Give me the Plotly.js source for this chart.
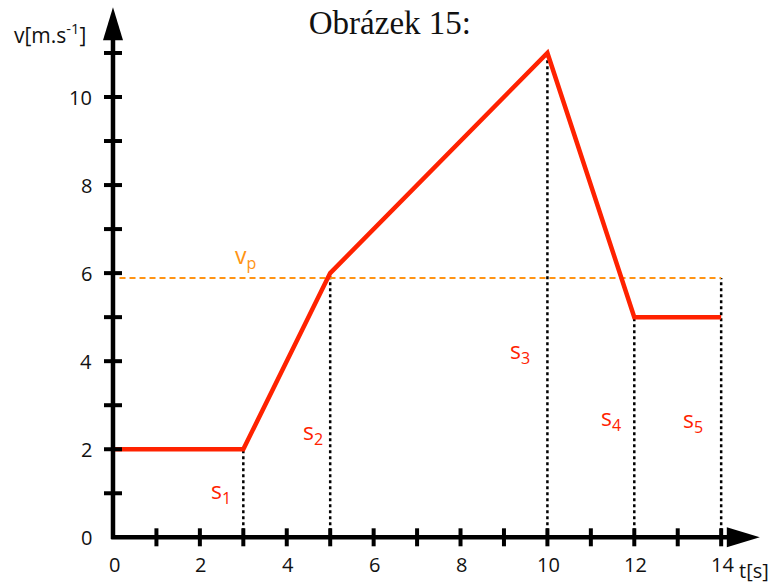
<!DOCTYPE html>
<html>
<head>
<meta charset="utf-8">
<script src="https://cdn.plot.ly/plotly-3.0.1.min.js"></script>
<style>html,body{margin:0;padding:0;background:#fff;}#chart{width:769px;height:583px;}</style>
</head>
<body>
<div id="chart"></div>
<script>
// ---- data ----
const tValues = [0, 3, 5, 10, 12, 14];
const vValues = [2, 2, 6, 11, 5, 5];
const vp = 5.89;
const dropT = [3, 5, 10, 12, 14];
const dropTop = [2, 6, 11, 5, 5.89];
const xTickVals = [1, 2, 3, 4, 5, 6, 7, 8, 9, 10, 11, 12, 13, 14];
const xLabelVals = [0, 2, 4, 6, 8, 10, 12, 14];
const xLabelText = ['0', '2', '4', '6', '8', '10', '12', '14'];
const yTickVals = [1, 2, 3, 4, 5, 6, 7, 8, 9, 10, 11];
const yLabelVals = [0, 2, 4, 6, 8, 10];
const yLabelText = ['0', '2', '4', '6', '8', '10'];
const segLabels = ['s<sub>1</sub>', 's<sub>2</sub>', 's<sub>3</sub>', 's<sub>4</sub>', 's<sub>5</sub>'];
const segLabelT = [2.49, 4.6, 9.37, 11.47, 13.35];
const segLabelV = [1.03, 2.39, 4.23, 2.69, 2.66];

const RED = '#ff2200';
const ORANGE = '#ff9414';
const TICKFONT = {family: 'Open Sans, sans-serif', size: 20, color: '#111'};

const traces = [];
// vertical dotted drop lines
dropT.forEach((t, i) => {
  traces.push({x: [t, t], y: [0, dropTop[i]], mode: 'lines', hoverinfo: 'skip',
    line: {color: '#000', width: 2.5, dash: '3px,3px'}, showlegend: false});
});
// average speed
traces.push({x: [0.15, 14], y: [vp, vp], mode: 'lines', hoverinfo: 'skip',
  line: {color: ORANGE, width: 2, dash: '6px,4px'}, showlegend: false});
// speed profile
traces.push({x: tValues, y: vValues, mode: 'lines', line: {color: RED, width: 4.5}, showlegend: false});

const shapes = [];
// axes lines
shapes.push({type: 'line', xref: 'x', yref: 'y', x0: -0.04, x1: 14.2, y0: 0, y1: 0, line: {color: '#000', width: 4.5}});
shapes.push({type: 'line', xref: 'x', yref: 'y', x0: 0, x1: 0, y0: -0.04, y1: 11.4, line: {color: '#000', width: 4.5}});
// arrowheads
shapes.push({type: 'path', xref: 'x', yref: 'y', xsizemode: 'pixel', ysizemode: 'pixel',
  xanchor: 14.13, yanchor: 0, path: 'M0,-10 L33,0 L0,10 Z', fillcolor: '#000', line: {width: 0}});
shapes.push({type: 'path', xref: 'x', yref: 'y', xsizemode: 'pixel', ysizemode: 'pixel',
  xanchor: 0, yanchor: 11.29, path: 'M-10,0 L0,33 L10,0 Z', fillcolor: '#000', line: {width: 0}});
// ticks
xTickVals.forEach(t => shapes.push({type: 'line', xref: 'x', yref: 'y', ysizemode: 'pixel', yanchor: 0,
  x0: t, x1: t, y0: -9, y1: 9, line: {color: '#000', width: 4}}));
yTickVals.forEach(v => shapes.push({type: 'line', xref: 'x', yref: 'y', xsizemode: 'pixel', xanchor: 0,
  x0: -9, x1: 9, y0: v, y1: v, line: {color: '#000', width: 4}}));

const annotations = [];
xLabelVals.forEach((t, i) => annotations.push({x: t, y: 0, xref: 'x', yref: 'y', text: xLabelText[i],
  showarrow: false, xanchor: 'center', yanchor: 'middle', yshift: -27, xshift: t === 0 ? 2 : 1, font: TICKFONT}));
yLabelVals.forEach((v, i) => annotations.push({x: 0, y: v, xref: 'x', yref: 'y', text: yLabelText[i],
  showarrow: false, xanchor: 'right', yanchor: 'middle', xshift: -19, font: TICKFONT}));
segLabels.forEach((s, i) => annotations.push({x: segLabelT[i], y: segLabelV[i], xref: 'x', yref: 'y', text: s,
  showarrow: false, xanchor: 'center', yanchor: 'middle', font: {family: 'Open Sans, sans-serif', size: 23, color: RED}}));
annotations.push({x: 3.04, y: 6.37, xref: 'x', yref: 'y', text: 'v<sub>p</sub>', showarrow: false,
  xanchor: 'center', yanchor: 'middle', font: {family: 'Open Sans, sans-serif', size: 23, color: ORANGE}});
annotations.push({x: 0, y: 11.45, xref: 'x', yref: 'y', text: 'v[m.s<sup>-1</sup>]', showarrow: false,
  xanchor: 'right', yanchor: 'middle', xshift: -25, font: {family: 'Open Sans, sans-serif', size: 21, color: '#111'}});
annotations.push({x: 14, y: 0, xref: 'x', yref: 'y', text: 't[s]', showarrow: false,
  xanchor: 'left', yanchor: 'middle', xshift: 16, yshift: -33, font: {family: 'Open Sans, sans-serif', size: 20, color: '#111'}});

const layout = {
  width: 769, height: 583,
  margin: {l: 0, r: 0, t: 0, b: 0},
  paper_bgcolor: '#fff', plot_bgcolor: '#fff',
  title: {text: 'Obrázek 15:', x: 0.507, xanchor: 'center', y: 0.962, yanchor: 'middle', yref: 'paper',
    font: {family: 'Liberation Serif, serif', size: 33, color: '#111'}},
  xaxis: {range: [-2.601, 15.101], visible: false, fixedrange: true},
  yaxis: {range: [-1.038, 12.203], visible: false, fixedrange: true},
  shapes: shapes, annotations: annotations, showlegend: false
};
Plotly.newPlot('chart', traces, layout, {displayModeBar: false, staticPlot: true});
</script>
</body>
</html>
